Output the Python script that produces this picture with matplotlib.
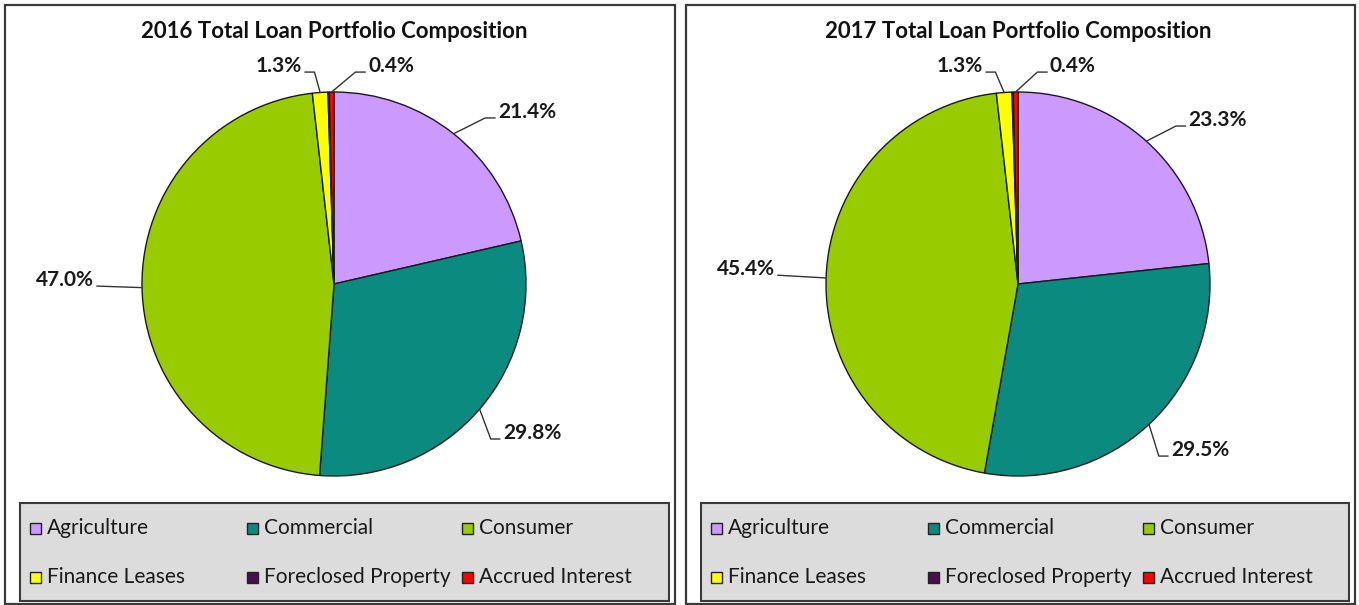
import math
import matplotlib
matplotlib.use("Agg")
import matplotlib.pyplot as plt
from matplotlib.patches import Rectangle

plt.rcParams['font.family'] = ['Lato', 'DejaVu Sans']

# ---------------- data ----------------
categories = ["Agriculture", "Commercial", "Consumer",
              "Finance Leases", "Foreclosed Property", "Accrued Interest"]
values_2016 = [21.4, 29.8, 47.0, 1.3, 0.1, 0.4]
values_2017 = [23.3, 29.5, 45.4, 1.3, 0.1, 0.4]
show_label = [True, True, True, True, False, True]
titles = ["2016 Total Loan Portfolio Composition",
          "2017 Total Loan Portfolio Composition"]

# ---------------- style ----------------
colors = ["#CC99FF", "#0B8A80", "#99CC00", "#FFFF00", "#4A0E4E", "#FF0000"]
W, H = 1359, 605
fig = plt.figure(figsize=(W / 100, H / 100), dpi=100)

def fx(x):
    return x / W

def fy(y):
    return 1 - y / H

# label positions in pie-radius units (relative to pie centre)
label_pos = [
    [(1.005, 0.896), (1.031, -0.776), (-1.401, 0.021), (-0.286, 1.135), None, (0.297, 1.135)],
    [(1.040, 0.854), (0.948, -0.865), (-1.417, 0.078), (-0.302, 1.135), None, (0.286, 1.135)],
]

panels = [dict(x0=5, x1=675, cx=334), dict(x0=686, x1=1355, cx=1018)]
R = 192.0
CY = 284.0

for p, vals, title, lpos in zip(panels, [values_2016, values_2017], titles, label_pos):
    # panel border
    fig.patches.append(Rectangle((fx(p['x0']), fy(604)), fx(p['x1'] - p['x0']), (604 - 5) / H,
                                 transform=fig.transFigure, facecolor="white",
                                 edgecolor="#3A3A3A", linewidth=1.6, zorder=-5))
    # title
    fig.text(fx(p['cx']), fy(32), title, ha="center", va="center",
             fontsize=16, fontweight="bold", color="#111111")

    # pie axes
    ax_l, ax_r, ax_t, ax_b = p['x0'] + 4, p['x1'] - 4, 45, 497
    ax = fig.add_axes([fx(ax_l), fy(ax_b), (ax_r - ax_l) / W, (ax_b - ax_t) / H])
    ax.set_zorder(3)
    ax.patch.set_alpha(0)
    wedges, _ = ax.pie(vals, colors=colors, startangle=90, counterclock=False,
                       wedgeprops=dict(edgecolor="#1A1A1A", linewidth=1.0))
    ax.set_aspect('auto')
    ax.set_xlim((ax_l - p['cx']) / R, (ax_r - p['cx']) / R)
    ax.set_ylim((CY - ax_b) / R, (CY - ax_t) / R)
    ax.axis('off')

    for w, v, show, pos in zip(wedges, vals, show_label, lpos):
        if not show or pos is None:
            continue
        text = f"{v:.1f}%"
        mid = math.radians((w.theta1 + w.theta2) / 2)
        ex, ey = math.cos(mid), math.sin(mid)
        tx, ty = pos
        left_side = tx < ex
        half = 0.031 * len(text)
        relpos = (1.0, 0.2) if left_side else (0.0, 0.2)
        cx_ = tx + half + 0.06 if left_side else tx - half - 0.06
        cy_ = ty - 0.03
        angB = math.degrees(math.atan2(cy_ - ey, cx_ - ex)) % 180
        if angB < 12 or angB > 168:
            cs = "arc3,rad=0"
        else:
            cs = f"angle,angleA=0,angleB={angB:.1f},rad=0"
        ax.annotate(text, xy=(ex, ey), xytext=(tx, ty),
                    ha="center", va="center", fontsize=15, fontweight="bold",
                    color="#1A1A1A",
                    arrowprops=dict(arrowstyle="-", color="#333333", lw=1.0,
                                    shrinkA=0, shrinkB=0, relpos=relpos,
                                    connectionstyle=cs),
                    annotation_clip=False)

    # legend box
    lx0, lx1, ly0, ly1 = p['x0'] + 15, p['x1'] - 6, 503, 601
    fig.patches.append(Rectangle((fx(lx0), fy(ly1)), fx(lx1 - lx0), (ly1 - ly0) / H,
                                 transform=fig.transFigure, facecolor="#DCDCDC",
                                 edgecolor="#3A3A3A", linewidth=1.5, zorder=1))
    col_x = [p['x0'] + 25, p['x0'] + 242, p['x0'] + 457]
    row_y = [528, 577]
    for i, (cat, col) in enumerate(zip(categories, colors)):
        r, c = divmod(i, 3)
        mx, my = col_x[c], row_y[r]
        fig.patches.append(Rectangle((fx(mx), fy(my + 5.5)), fx(11), 11 / H,
                                     transform=fig.transFigure, facecolor=col,
                                     edgecolor="#222222", linewidth=1.0, zorder=2))
        fig.text(fx(mx + 17), fy(my), cat, ha="left", va="center",
                 fontsize=15, color="#1A1A1A", zorder=3)

fig.savefig("out.png", dpi=100)
